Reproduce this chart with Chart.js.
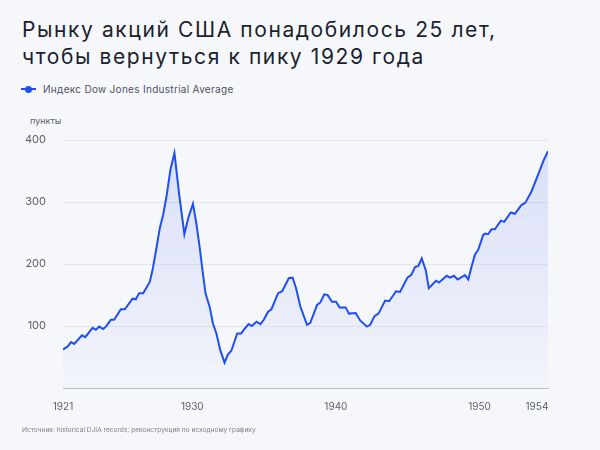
<!DOCTYPE html>
<html>
<head>
<meta charset="utf-8">
<script src="https://cdn.jsdelivr.net/npm/chart.js@4"></script>
<style>
  body { margin: 0; background: #f6f7fb; font-family: Inter, "Noto Sans", sans-serif; }
  #wrap { position: relative; width: 600px; height: 450px; overflow: hidden; }
  #title { position: absolute; left: 22px; top: 16px; font-size: 21px; line-height: 27px; color: #1b1f2e; font-weight: 400; letter-spacing: 1.6px; white-space: nowrap; }
  #legend { position: absolute; left: 21px; top: 83px; font-size: 10px; letter-spacing: 0.3px; color: #4c5160; display: flex; align-items: center; }
  #legend .mark { position: relative; width: 15px; height: 2px; background: #1f4ef5; margin-right: 7px; }
  #legend .mark::after { content: ""; position: absolute; left: 4px; top: -2.5px; width: 7px; height: 7px; border-radius: 50%; background: #1f4ef5; }
  #unit { position: absolute; left: 30px; top: 115px; font-size: 9px; color: #5a5f6b; }
  #note { position: absolute; left: 22px; top: 426px; font-size: 6.6px; color: #7b808c; }
  canvas { position: absolute; left: 0; top: 0; }
</style>
</head>
<body>
<div id="wrap">
  <div id="title">Рынку акций США понадобилось 25 лет,<br>чтобы вернуться к пику 1929 года</div>
  <div id="legend"><span class="mark"></span>Индекс Dow Jones Industrial Average</div>
  <div id="unit">пункты</div>
  <canvas id="djiaChart" width="600" height="450"></canvas>
  <div id="note">Источник: historical DJIA records; реконструкция по исходному графику</div>
</div>
<script>
// Dates (decimal years) and index values
const years = [
  1921.0, 1921.33, 1921.56, 1921.78, 1922.32, 1922.55, 1923.06, 1923.29, 1923.52, 1923.8,
  1923.99, 1924.33, 1924.56, 1925.03, 1925.31, 1925.84, 1926.07, 1926.3, 1926.58, 1927.04,
  1927.25, 1927.5, 1927.75, 1927.97, 1928.2, 1928.48, 1928.76, 1929.08, 1929.45, 1929.73,
  1930.05, 1930.28, 1930.51, 1930.74, 1930.93, 1931.21, 1931.44, 1931.68, 1931.95, 1932.25,
  1932.48, 1932.72, 1933.13, 1933.41, 1933.6, 1933.92, 1934.15, 1934.47, 1934.75, 1934.98,
  1935.28, 1935.51, 1935.98, 1936.26, 1936.72, 1936.99, 1937.23, 1937.53, 1937.99, 1938.22,
  1938.69, 1938.92, 1939.19, 1939.42, 1939.73, 1940.01, 1940.26, 1940.68, 1940.91, 1941.38,
  1941.69, 1942.16, 1942.39, 1942.69, 1942.97, 1943.43, 1943.71, 1944.19, 1944.47, 1944.98,
  1945.24, 1945.51, 1945.74, 1945.98, 1946.26, 1946.47, 1946.97, 1947.18, 1947.72, 1947.94,
  1948.22, 1948.48, 1948.99, 1949.22, 1949.45, 1949.68, 1949.91, 1950.26, 1950.38, 1950.6,
  1950.84, 1951.07, 1951.49, 1951.72, 1952.18, 1952.46, 1952.92, 1953.2, 1953.62, 1954.08,
  1954.5, 1954.77
];
const values = [
  62, 67, 74, 71, 85, 82, 97, 94, 99, 95,
  99, 110, 110, 127, 127, 144, 143, 153, 153, 171,
  192, 225, 259, 279, 308, 352, 379, 314, 248, 275,
  297, 266, 228, 185, 152, 131, 104, 88, 61, 41,
  54, 60, 88, 88, 94, 103, 100, 107, 103, 110,
  123, 127, 153, 156, 177, 178, 161, 131, 102, 105,
  134, 138, 151, 150, 139, 139, 130, 130, 120, 121,
  109, 99, 102, 116, 120, 141, 140, 156, 155, 178,
  182, 195, 197, 209, 190, 161, 173, 170, 181, 178,
  181, 175, 182, 175, 196, 215, 223, 247, 249, 248,
  256, 256, 270, 268, 283, 281, 295, 299, 317, 344,
  369, 382
];
const xTicks = [1921, 1930, 1940, 1950, 1954];
const yTicks = [100, 200, 300, 400];

const blue = "#1f4ef5";
const ctx = document.getElementById("djiaChart").getContext("2d");

const djiaChart = new Chart(ctx, {
  type: "line",
  data: {
    datasets: [
      {
        label: "Индекс Dow Jones Industrial Average",
        data: years.map((y, i) => ({ x: y, y: values[i] })),
        borderColor: blue,
        borderWidth: 2,
        pointRadius: 0,
        tension: 0,
        fill: "origin",
        backgroundColor: (c) => {
          const area = c.chart.chartArea;
          if (!area) return "rgba(31,78,245,0.1)";
          const g = c.chart.ctx.createLinearGradient(0, area.top, 0, area.bottom);
          g.addColorStop(0, "rgba(60,100,230,0.16)");
          g.addColorStop(1, "rgba(60,100,230,0.02)");
          return g;
        },
      },
    ],
  },
  options: {
    responsive: false,
    animation: false,
    layout: { padding: { top: 140, right: 52, left: 0, bottom: 0 } },
    plugins: { legend: { display: false }, tooltip: { enabled: false } },
    scales: {
      x: {
        type: "linear",
        min: 1921,
        max: years[years.length - 1],
        afterBuildTicks: (s) => { s.ticks = xTicks.map((v) => ({ value: v })); },
        afterFit: (s) => { s.height = 62; },
        grid: { display: false, drawTicks: false },
        border: { display: true, color: "#b9c2cf", width: 1 },
        ticks: {
          padding: 13,
          maxRotation: 0,
          autoSkip: false,
          color: "#5a5f6b",
          font: { family: "Inter", size: 10 },
          callback: (v) => String(v),
        },
      },
      y: {
        min: 0,
        max: 400,
        afterBuildTicks: (s) => { s.ticks = [0].concat(yTicks).map((v) => ({ value: v })); },
        afterFit: (s) => { s.width = 63; },
        grid: { color: (c) => (c.tick.value === 0 ? "rgba(0,0,0,0)" : "#e2e6ee"), drawTicks: false },
        border: { display: false },
        ticks: {
          padding: 17,
          color: "#5a5f6b",
          font: { family: "Inter", size: 11 },
          callback: (v) => (v === 0 ? "" : String(v)),
        },
      },
    },
  },
});
</script>
</body>
</html>
